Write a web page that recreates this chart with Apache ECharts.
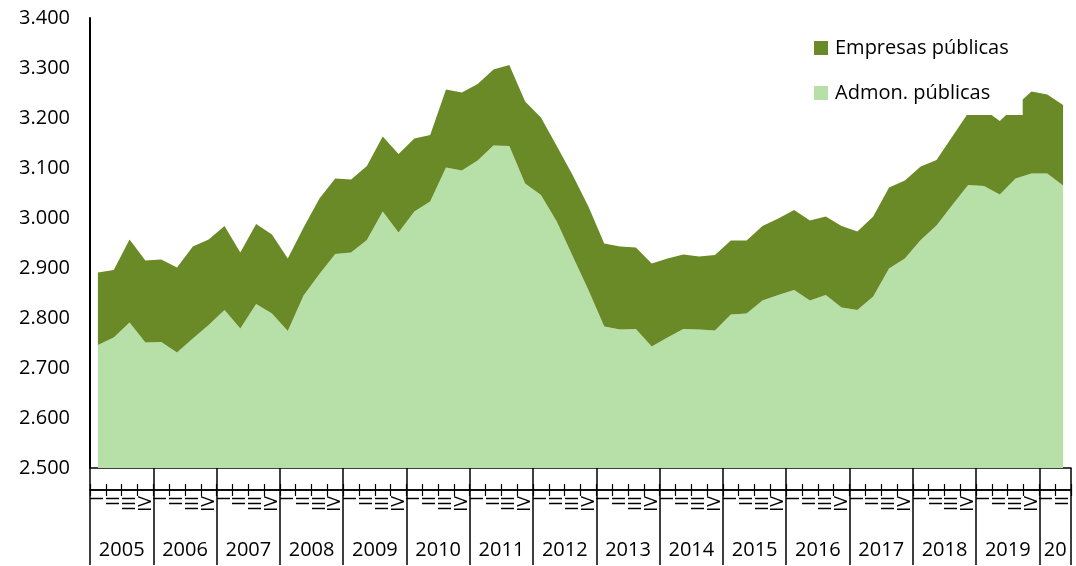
<!DOCTYPE html>
<html>
<head>
<meta charset="utf-8">
<script src="https://cdn.jsdelivr.net/npm/echarts@6/dist/echarts.min.js"></script>
<style>
  html, body { margin: 0; padding: 0; background: #fff; }
  #chart { width: 1076px; height: 566px; }
</style>
</head>
<body>
<div id="chart"></div>
<script>
// years shown under the axis (last group is cut short in the original)
const years = ['2005', '2006', '2007', '2008', '2009', '2010', '2011', '2012',
  '2013', '2014', '2015', '2016', '2017', '2018', '2019', '20']
const quarterNames = ['I', 'II', 'III', 'IV']
const quarterCount = 62 // 2005-I .. 2020-II

// thousands of people
const admon = [
  2746, 2761, 2791, 2751, 2752, 2731, 2759, 2786, 2816, 2779, 2828, 2809,
  2774, 2845, 2888, 2928, 2931, 2956, 3013, 2971, 3013, 3033, 3101, 3095,
  3115, 3145, 3144, 3069, 3046, 2993, 2924, 2856, 2783, 2777, 2778, 2743,
  2761, 2778, 2777, 2775, 2807, 2809, 2835, 2846, 2856, 2835, 2846, 2821,
  2816, 2843, 2899, 2919, 2956, 2985, 3026, 3066, 3064, 3047, 3079, 3089,
  3089, 3065
]
const empresas = [
  145, 135, 166, 164, 165, 170, 184, 171, 168, 152, 160, 158,
  145, 136, 151, 151, 146, 148, 150, 157, 146, 133, 156, 156,
  153, 152, 162, 164, 155, 151, 162, 167, 166, 166, 163, 166,
  158, 149, 146, 151, 148, 146, 149, 153, 160, 160, 157, 163,
  157, 160, 162, 156, 147, 131, 137, 144, 153, 147, 145, 164,
  158, 161
]

const yTicks = { min: 2500, max: 3400, step: 100 }

const dark = '#6a8a28'
const light = '#b7e0a9'
const font = 'Open Sans'

// category labels
const quarterCats = []
const yearCats = []
for (let i = 0; i < quarterCount; i++) {
  quarterCats.push(quarterNames[i % 4])
  const g = Math.floor(i / 4)
  if (g < 15) yearCats.push(i % 4 === 1 ? years[g] : '')
  else yearCats.push(i === 60 ? years[15] : '')
}

// thin axis used only for the separator row under the axis line
const sepAxis = (inside) => ({
  type: 'category',
  data: quarterCats,
  position: 'bottom',
  offset: 22,
  boundaryGap: true,
  axisLine: { show: true, lineStyle: { color: '#000', width: 1.5 } },
  axisTick: { show: true, inside: inside, length: 6, interval: 0, lineStyle: { color: '#000', width: 1.2 } },
  axisLabel: { show: false }
})

const chart = echarts.init(document.getElementById('chart'))

const option = {
  animation: false,
  backgroundColor: '#fff',
  textStyle: { fontFamily: font },
  grid: { left: 90, right: 5, top: 18, bottom: 98 },
  legend: {
    orient: 'vertical',
    left: 800,
    top: 23,
    padding: [15, 14, 12, 14],
    backgroundColor: '#fff',
    itemWidth: 14,
    itemHeight: 14,
    itemGap: 25,
    icon: 'rect',
    data: ['Empresas públicas', 'Admon. públicas'],
    textStyle: { fontSize: 20, color: '#000', fontFamily: font, padding: [0, 0, 0, 2] }
  },
  xAxis: [
    {
      type: 'category',
      data: quarterCats,
      boundaryGap: true,
      axisLine: { lineStyle: { color: '#000', width: 1.5 } },
      axisTick: { show: false },
      axisLabel: {
        interval: 0,
        rotate: 90,
        margin: 28,
        fontSize: 18,
        color: '#000',
        fontFamily: font
      }
    },
    {
      type: 'category',
      data: yearCats,
      position: 'bottom',
      boundaryGap: true,
      axisLine: { show: false },
      axisTick: {
        show: true,
        length: 97,
        interval: (idx) => idx % 4 === 0,
        lineStyle: { color: '#000', width: 1.5 }
      },
      axisLabel: {
        interval: 0,
        margin: 72,
        color: '#000',
        formatter: (v) => (v ? '{y|' + v + '}' : ''),
        rich: {
          y: { fontSize: 20, fontFamily: font, color: '#000', padding: [0, 0, 0, 16] }
        }
      }
    },
    sepAxis(true),
    sepAxis(false)
  ],
  yAxis: {
    type: 'value',
    min: yTicks.min,
    max: yTicks.max,
    interval: yTicks.step,
    splitLine: { show: false },
    axisLine: { show: true, lineStyle: { color: '#000', width: 2 } },
    axisTick: { show: false },
    axisLabel: {
      margin: 20,
      fontSize: 20,
      color: '#000',
      fontFamily: font,
      formatter: (v) => {
        const s = String(v)
        return s.slice(0, 1) + '.' + s.slice(1)
      }
    }
  },
  series: [
    {
      name: 'Admon. públicas',
      type: 'line',
      stack: 'total',
      data: admon,
      symbol: 'none',
      lineStyle: { width: 0 },
      itemStyle: { color: light },
      areaStyle: { color: light, opacity: 1 }
    },
    {
      name: 'Empresas públicas',
      type: 'line',
      stack: 'total',
      data: empresas,
      symbol: 'none',
      lineStyle: { width: 0 },
      itemStyle: { color: dark },
      areaStyle: { color: dark, opacity: 1 }
    }
  ]
}

chart.setOption(option)
window.addEventListener('resize', () => chart.resize())
</script>
</body>
</html>
